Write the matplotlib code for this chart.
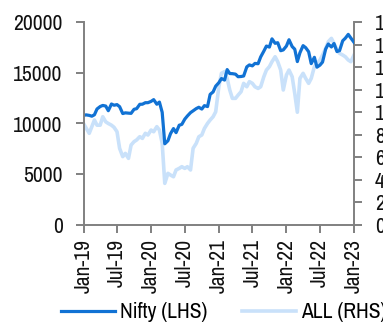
import matplotlib
matplotlib.use("Agg")
import matplotlib.pyplot as plt
import matplotlib.dates as mdates
from matplotlib import font_manager
import pandas as pd

# look for a narrow sans face; otherwise fall back to Liberation Sans, slightly smaller
names = sorted({f.name for f in font_manager.fontManager.ttflist})
narrow = [n for n in names if 'Narrow' in n] + [n for n in names if 'Condensed' in n and 'Sans' in n]
if narrow:
    plt.rcParams['font.family'] = [narrow[0], 'DejaVu Sans']
    fs = 15.5
else:
    plt.rcParams['font.family'] = ['Liberation Sans', 'DejaVu Sans']
    plt.rcParams['font.stretch'] = 'condensed'
    fs = 13

# semi-monthly points, Jan-19 .. Jan-23
dates = pd.date_range('2019-01-01', '2023-01-01', freq='SMS')

nifty = [10800, 10850, 10800, 10720, 10860, 11430, 11670, 11780, 11720, 11260,
         11920, 11800, 11860, 11660, 10980, 11050, 11020, 11000, 11400, 11460,
         11890, 11900, 12050, 12050, 12180, 12350, 11900, 12110, 11100, 8000,
         8300, 9000, 9500, 9100, 9830, 9910, 10430, 10740, 11070, 11250,
         11470, 11600, 11420, 11760, 11670, 12870, 13110, 13680, 14020, 14430,
         14280, 15310, 14920, 14910, 14860, 14610, 14630, 14680, 15580, 15770,
         15680, 15920, 15890, 16560, 17130, 17630, 17530, 18340, 17900, 17960,
         17170, 17250, 17630, 18250, 17580, 17320, 16100, 16970, 17670, 17470,
         17070, 15900, 16520, 15550, 15750, 16050, 17340, 17830, 17540, 17880,
         17090, 17180, 18150, 18400, 18780, 18420, 18000]

all_idx = [900, 860, 813, 872, 931, 885, 885, 960, 915, 900,
           885, 866, 827, 680, 606, 635, 591, 709, 739, 754,
           783, 768, 813, 798, 842, 827, 872, 842, 724, 369,
           458, 443, 428, 488, 502, 517, 502, 517, 488, 680,
           724, 783, 798, 856, 901, 931, 960, 1004, 1226, 1345,
           1360, 1300, 1197, 1123, 1123, 1152, 1182, 1256, 1226, 1271,
           1256, 1226, 1211, 1226, 1315, 1374, 1404, 1448, 1492, 1448,
           1374, 1197, 1330, 1374, 1315, 1167, 1000, 1300, 1345, 1300,
           1256, 1300, 1404, 1433, 1463, 1507, 1566, 1625, 1655, 1610,
           1551, 1522, 1507, 1492, 1463, 1448, 1507]

fig = plt.figure(figsize=(3.83, 3.27), dpi=100)
ax = fig.add_axes([83.5 / 383, 1 - 225 / 327, (354 - 83.5) / 383, (225 - 22) / 327])
ax2 = ax.twinx()

l1, = ax.plot(dates, nifty, color='#1172d4', lw=2.3, label='Nifty (LHS)')
l2, = ax2.plot(dates, all_idx, color='#c9e1fa', lw=2.6, label='ALL (RHS)')
ax.set_zorder(ax2.get_zorder() + 1)
ax.patch.set_visible(False)

ax.set_xlim(pd.Timestamp('2019-01-01'), pd.Timestamp('2023-01-01'))
ax.set_ylim(0, 20000)
ax.set_yticks(range(0, 20001, 5000))
ax2.set_ylim(0, 1800)
ax2.set_yticks(range(0, 1801, 200))

ax.xaxis.set_major_locator(mdates.MonthLocator(bymonth=[1, 7]))
ax.xaxis.set_major_formatter(mdates.DateFormatter('%b-%y'))

grey = '#808080'
for a in (ax, ax2):
    for s in a.spines.values():
        s.set_color(grey)
        s.set_linewidth(1.4)
    a.spines['top'].set_visible(False)
    a.tick_params(colors=grey, width=1.4, length=6, labelcolor='#111111', labelsize=fs)
ax.spines['right'].set_visible(False)
ax2.spines['left'].set_visible(False)
ax2.spines['bottom'].set_visible(False)
ax.tick_params(axis='y', pad=9)
ax2.tick_params(axis='y', pad=9)
ax.tick_params(axis='x', pad=4)
plt.setp(ax.get_xticklabels(), rotation=90)

fig.legend(handles=[l1, l2], loc='center', bbox_to_anchor=(0.585, 0.045), ncol=2,
           frameon=False, fontsize=fs, handlelength=2.5, handletextpad=0.25,
           columnspacing=1.6)

fig.savefig('out.png', dpi=100)
